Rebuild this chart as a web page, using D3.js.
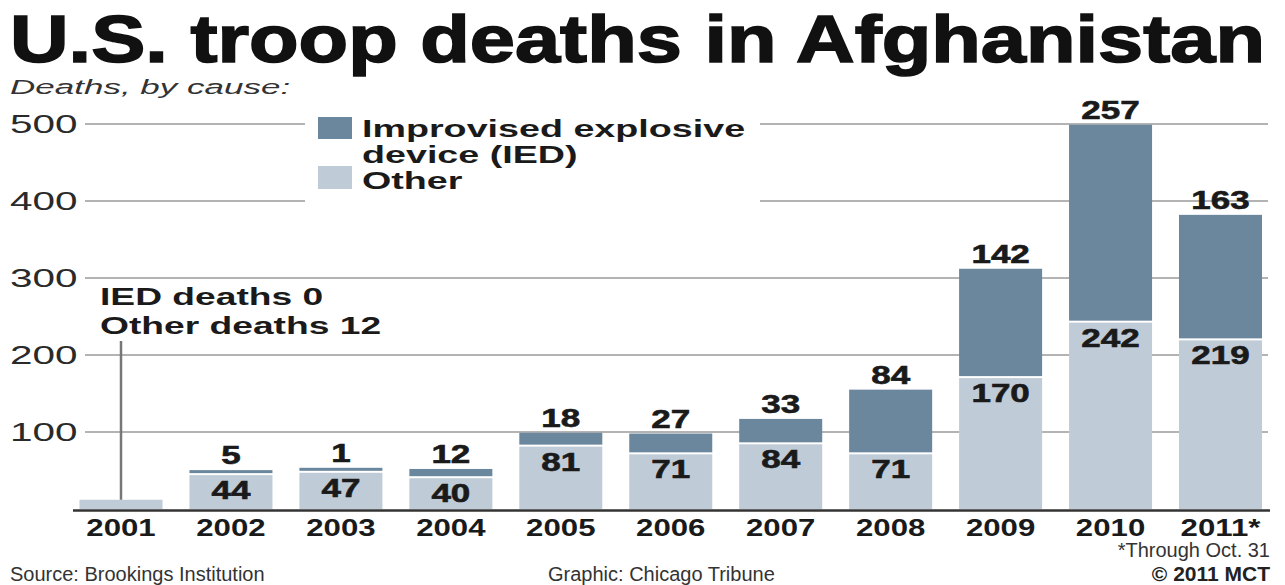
<!DOCTYPE html>
<html>
<head>
<meta charset="utf-8">
<script src="https://cdn.jsdelivr.net/npm/d3@7"></script>
<style>
  html, body { margin: 0; padding: 0; background: #fff; }
  svg { display: block; }
  text { font-family: "Liberation Sans", Arial, Helvetica, sans-serif; fill: #1a1a1a; }
</style>
</head>
<body>
<svg id="chart" width="1285" height="585"></svg>
<script>
// ---- data ----
const years = ["2001", "2002", "2003", "2004", "2005", "2006", "2007", "2008", "2009", "2010", "2011*"];
const iedDeaths = [0, 5, 1, 12, 18, 27, 33, 84, 142, 257, 163];
const otherDeaths = [12, 44, 47, 40, 81, 71, 84, 71, 170, 242, 219];
const yTicks = [100, 200, 300, 400, 500];
const seriesNames = ["Improvised explosive", "device (IED)", "Other"];

const colIED = "#6b879d";
const colOther = "#c0cbd8";

const svg = d3.select("#chart");

const x = d3.scaleBand().domain(years).range([66.3, 1275.2]).paddingInner(0.245).paddingOuter(0.12);
const y = d3.scaleLinear().domain([0, 500]).range([509, 124]);

function stext(g, str, px, py, size, weight, sx, anchor, style) {
  const t = g.append("text")
    .attr("transform", `translate(${px},${py}) scale(${sx},1)`)
    .attr("font-size", size)
    .attr("font-weight", weight || "normal")
    .attr("text-anchor", anchor || "start")
    .text(str);
  if (style) t.attr("font-style", style);
  return t;
}

// title
svg.append("text")
  .attr("x", 10).attr("y", 62)
  .attr("font-size", 67)
  .attr("font-weight", 900)
  .attr("font-family", "Roboto, 'Liberation Sans', sans-serif")
  .attr("textLength", 1255)
  .attr("lengthAdjust", "spacingAndGlyphs")
  .style("fill", "#111")
  .style("stroke", "#111").style("stroke-width", 1.6)
  .text("U.S. troop deaths in Afghanistan");

// subtitle
stext(svg, "Deaths, by cause:", 10, 94, 20, "normal", 1.75, "start", "italic").style("fill", "#333");

// gridlines
const grid = svg.append("g");
grid.selectAll("line").data(yTicks).join("line")
  .attr("x1", 85).attr("x2", 1268)
  .attr("y1", d => y(d)).attr("y2", d => y(d))
  .attr("stroke", "#9a9a9a").attr("stroke-width", 1.5);

// y tick labels
const yl = svg.append("g");
yTicks.forEach(v => stext(yl, String(v), 10, y(v) + 9, 25, "normal", 1.62, "start").style("fill", "#2a2a2a"));

// legend (white box over gridlines)
const lg = svg.append("g");
lg.append("rect").attr("x", 305).attr("y", 108).attr("width", 455).attr("height", 103).attr("fill", "#fff");
lg.append("rect").attr("x", 318).attr("y", 117).attr("width", 34).attr("height", 22).attr("fill", colIED);
lg.append("rect").attr("x", 318).attr("y", 166).attr("width", 34).attr("height", 23).attr("fill", colOther);
stext(lg, seriesNames[0], 362, 137, 24, "bold", 1.57, "start");
stext(lg, seriesNames[1], 362, 163, 24, "bold", 1.57, "start");
stext(lg, seriesNames[2], 362, 189, 24, "bold", 1.57, "start");

// bars
const data = years.map((yr, i) => ({ yr, ied: iedDeaths[i], other: otherDeaths[i] }));
const bars = svg.append("g");
bars.selectAll("rect.other").data(data).join("rect")
  .attr("class", "other")
  .attr("x", d => x(d.yr)).attr("width", x.bandwidth())
  .attr("y", d => y(d.other)).attr("height", d => y(0) - y(d.other))
  .attr("fill", colOther);
const iedH = d => Math.max(y(d.other) - y(d.other + d.ied) - 2, 3);
bars.selectAll("rect.ied").data(data.filter(d => d.ied > 0)).join("rect")
  .attr("class", "ied")
  .attr("x", d => x(d.yr)).attr("width", x.bandwidth())
  .attr("y", d => y(d.other) - 2 - iedH(d)).attr("height", d => iedH(d))
  .attr("fill", colIED);

// value labels
const lab = svg.append("g");
data.forEach((d, i) => {
  if (i === 0) return;
  const cx = x(d.yr) + x.bandwidth() / 2;
  stext(lab, String(d.ied), cx, y(d.other) - 2 - iedH(d) - 6, 25, "bold", 1.4, "middle").style("stroke", "#1a1a1a").style("stroke-width", 0.6);
  stext(lab, String(d.other), cx, y(d.other) + 24, 25, "bold", 1.4, "middle").style("stroke", "#1a1a1a").style("stroke-width", 0.6);
});

// axis baseline
svg.append("line").attr("x1", 73).attr("x2", 1270).attr("y1", 510.5).attr("y2", 510.5)
  .attr("stroke", "#333").attr("stroke-width", 2.5);

// year labels
const xl = svg.append("g");
years.forEach(yr => stext(xl, yr, x(yr) + x.bandwidth() / 2, 536, 24, "bold", 1.3, "middle"));

// 2001 annotation
const d0 = data[0];
const cx0 = x(d0.yr) + x.bandwidth() / 2;
svg.append("line").attr("x1", cx0).attr("x2", cx0).attr("y1", 341).attr("y2", y(d0.other))
  .attr("stroke", "#777").attr("stroke-width", 2.5);
stext(svg, "IED deaths " + d0.ied, 100, 305, 24, "bold", 1.55, "start");
stext(svg, "Other deaths " + d0.other, 100, 334, 24, "bold", 1.55, "start");

// footer
stext(svg, "*Through Oct. 31", 1270, 557, 20, "normal", 1.0, "end").style("fill", "#333");
stext(svg, "Source: Brookings Institution", 10, 581, 20, "normal", 1.0, "start").style("fill", "#333");
stext(svg, "Graphic: Chicago Tribune", 548, 581, 20, "normal", 1.0, "start").style("fill", "#333");
stext(svg, "© 2011 MCT", 1270, 581, 20, "bold", 1.05, "end").style("fill", "#222");
</script>
</body>
</html>
